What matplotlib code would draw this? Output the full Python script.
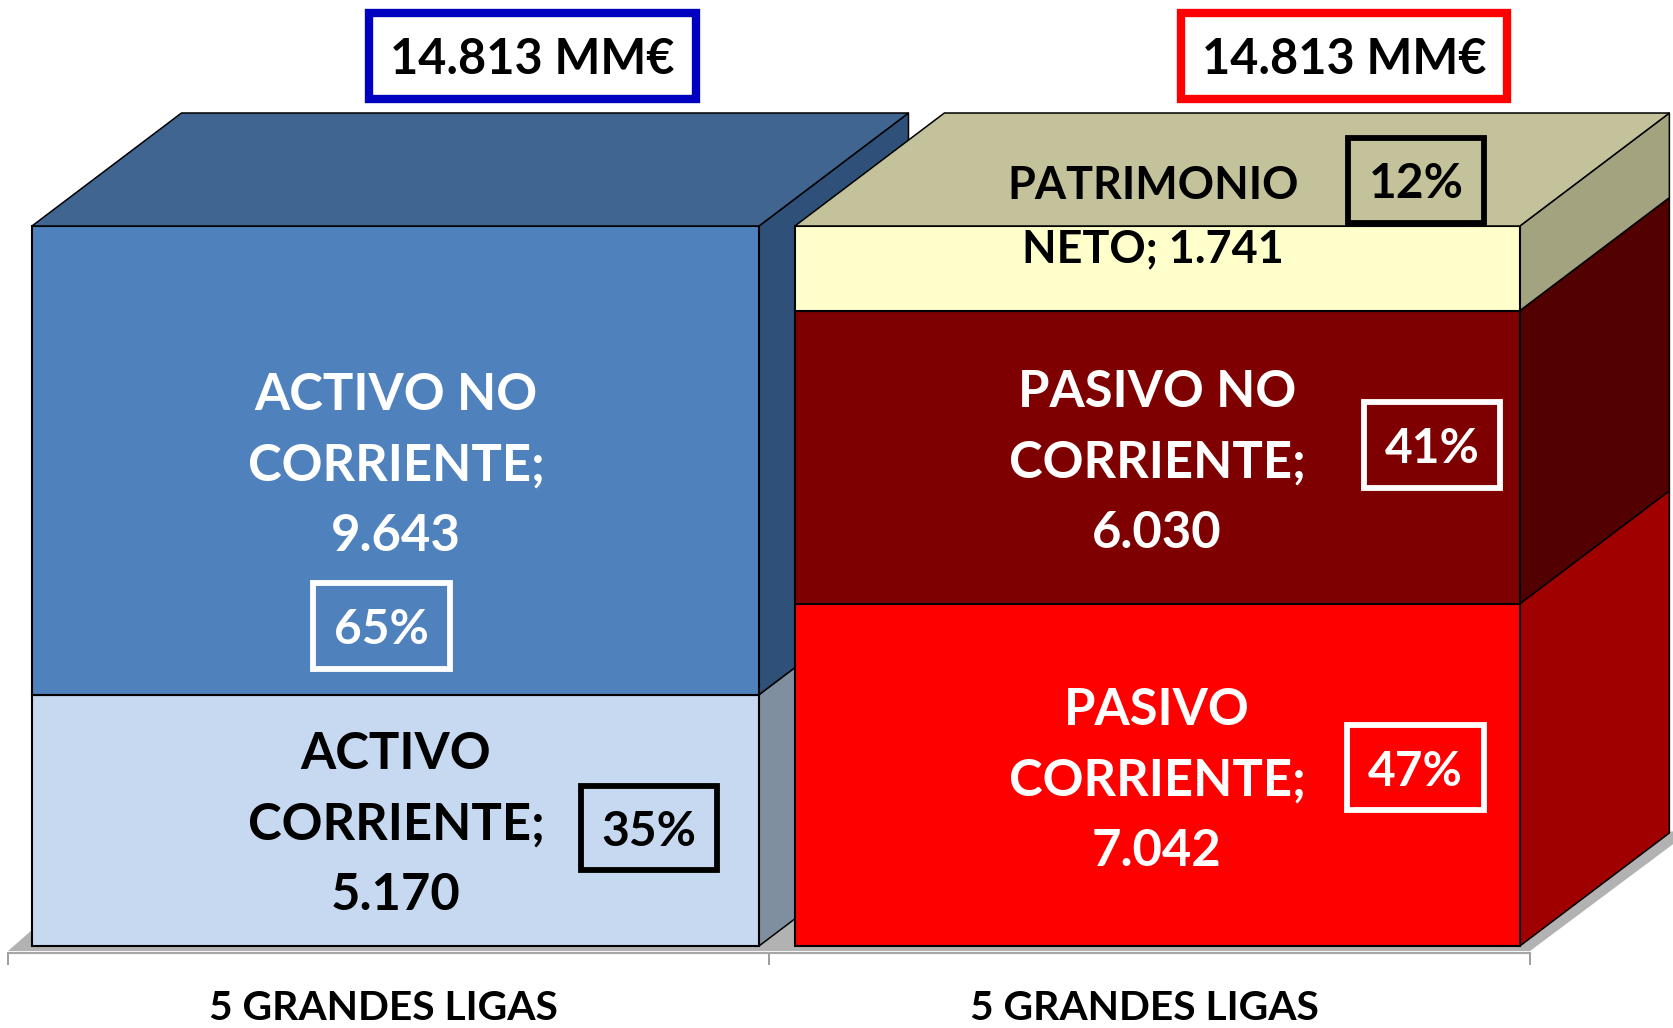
import matplotlib
matplotlib.use("Agg")
import matplotlib.pyplot as plt
from matplotlib.patches import Polygon, Rectangle

W, H = 1673, 1028

categories = ["5 GRANDES LIGAS", "5 GRANDES LIGAS"]
total_labels = ["14.813 MM€", "14.813 MM€"]

activo_values = [5170, 9643]
activo_labels = ["ACTIVO\nCORRIENTE;\n5.170", "ACTIVO NO\nCORRIENTE;\n9.643"]
activo_pct = ["35%", "65%"]

pasivo_values = [7042, 6030, 1741]
pasivo_labels = ["PASIVO\nCORRIENTE;\n7.042", "PASIVO NO\nCORRIENTE;\n6.030", "PATRIMONIO\nNETO; 1.741"]
pasivo_pct = ["47%", "41%", "12%"]

# front, side, top
activo_colors = [("#C6D9F1", "#7F8F9F"), ("#4F81BD", "#2F5078")]
activo_top = "#3F6590"
pasivo_colors = [("#FF0000", "#A00000"), ("#7F0000", "#530000"), ("#FFFFCC", "#A3A380")]
pasivo_top = "#C3C29B"

# layout: axes fills the figure, one category = 761 px, 14813 = 720 px
px_x = 761
px_y = 14813 / 720
x_lo = -0.5 - 8 / px_x
y_lo = -(H - 946) * px_y
bar_left = [-0.4685, 0.534]
bar_w = [727 / px_x, 725 / px_x]
depth_x = 149.5 / px_x
depth_y = 113 * px_y

fig = plt.figure(figsize=(W / 100, H / 100), dpi=100)
plt.rcParams["font.family"] = ["Lato", "DejaVu Sans"]
ax = fig.add_axes([0, 0, 1, 1])
ax.set_xlim(x_lo, x_lo + W / px_x)
ax.set_ylim(y_lo, y_lo + H * px_y)
ax.set_facecolor("white")
for s in ["top", "left", "right"]:
    ax.spines[s].set_visible(False)
ax.set_yticks([])
ax.spines["bottom"].set_position(("data", -6.5 * px_y))
ax.spines["bottom"].set_color("#A6A6A6")
ax.spines["bottom"].set_linewidth(1.6)
ax.spines["bottom"].set_bounds(-0.5, 1.5)
ax.set_xticks([-0.5, 0.5, 1.5], ["", "", ""])
ax.tick_params(axis="x", length=8.5, width=1.2, color="#8C8C8C")


def stack(left, width, values, colors, top_color):
    right = left + width
    base = 0
    for v, (front, side) in zip(values, colors):
        ax.add_patch(Polygon([(right, base), (right + depth_x, base + depth_y),
                              (right + depth_x, base + v + depth_y), (right, base + v)],
                             fc=side, ec="black", lw=1.1, joinstyle="round"))
        ax.add_patch(Rectangle((left, base), width, v, fc=front, ec="black", lw=1.5))
        base += v
    ax.add_patch(Polygon([(left, base), (left + depth_x, base + depth_y),
                          (right + depth_x, base + depth_y), (right, base)],
                         fc=top_color, ec="black", lw=1.1))


# grey floor under the columns
floor_x = [-0.5, -0.5 + 24 / px_x, 1.5 + 150 / px_x, 1.5 + 150 / px_x, 1.5]
floor_y = [-5 * px_y, 16 * px_y, 115 * px_y, 107 * px_y, -5 * px_y]
ax.add_patch(Polygon(list(zip(floor_x, floor_y)), fc="#B2B2B2", ec="none"))

stack(bar_left[0], bar_w[0], activo_values, activo_colors, activo_top)
stack(bar_left[1], bar_w[1], pasivo_values, pasivo_colors, pasivo_top)


def label(x, y, txt, color, size=36.5, spacing=1.62):
    fig.text(x / W, 1 - y / H, txt, color=color, fontsize=size, fontweight="bold",
             ha="center", va="center", linespacing=spacing, multialignment="center")


def box(x0, y0, x1, y1, txt, color, size=34.5, lw=4.2, txt_color=None):
    fig.add_artist(Rectangle((x0 / W, 1 - y1 / H), (x1 - x0) / W, (y1 - y0) / H,
                             transform=fig.transFigure, fc="none", ec=color, lw=lw,
                             joinstyle="miter"))
    label((x0 + x1) / 2, (y0 + y1) / 2 + 4, txt, txt_color or color, size)


# column labels
label(396, 825, activo_labels[0], "black")
label(396, 466, activo_labels[1], "white")
label(1157, 781, pasivo_labels[0], "white")
label(1157, 463, pasivo_labels[1], "white")
label(1153, 218, pasivo_labels[2], "black", 32.4)

# percentage boxes
box(581, 786, 717, 870, activo_pct[0], "black")
box(313, 583, 450, 669, activo_pct[1], "white")
box(1347, 725, 1484, 810, pasivo_pct[0], "white")
box(1364, 402, 1500, 488, pasivo_pct[1], "white")
box(1348, 138, 1484, 223, pasivo_pct[2], "black")

# totals on top
box(369, 13, 696, 99, total_labels[0], "#0000C0", 35, 6, "black")
box(1181, 13, 1507, 99, total_labels[1], "#FF0000", 35, 6, "black")

# category names
label(383, 1008, categories[0], "black", 29.3)
label(1144, 1008, categories[1], "black", 29.3)

fig.savefig("out.png", dpi=100, facecolor="white")
